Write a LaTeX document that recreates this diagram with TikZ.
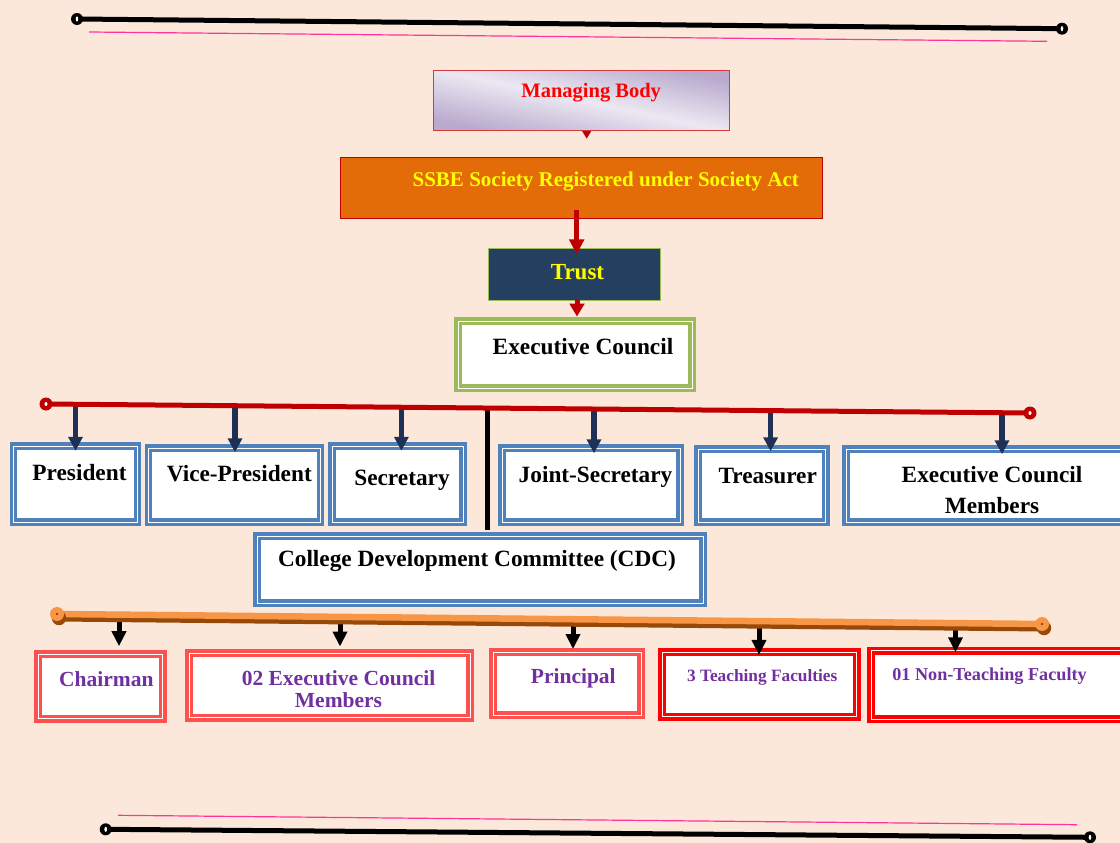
\documentclass[tikz,border=0pt]{standalone}
\usepackage{fontspec}
\setmainfont{Liberation Serif}
\usetikzlibrary{arrows.meta}
\definecolor{bg}{RGB}{252,232,218}
\definecolor{exred}{HTML}{C00000}
\definecolor{mbborder}{HTML}{D63A3A}
\definecolor{ssbeorange}{HTML}{E36C09}
\definecolor{trustnavy}{HTML}{243F60}
\definecolor{olive}{HTML}{9BBB59}
\definecolor{boxblue}{HTML}{4F81BD}
\definecolor{lightred}{HTML}{FF5050}
\definecolor{purered}{HTML}{FF0000}
\definecolor{arrownavy}{HTML}{1F3056}
\definecolor{barorange}{HTML}{F79646}
\definecolor{barbrown}{HTML}{984807}
\definecolor{txtpurple}{HTML}{7030A0}
\definecolor{txtyellow}{HTML}{FFFF00}
\definecolor{hotpink}{HTML}{FF3399}
\definecolor{mblight}{HTML}{ECE8F2}
\definecolor{mbdark}{HTML}{B8A9CD}
\begin{document}
\begin{tikzpicture}[x=1pt,y=-1pt,
  dbox/.style={draw=#1, double=white, double distance=0.9pt, line width=3.5pt, fill=white, inner sep=0pt},
  blk/.style={font=\bfseries\fontsize{23.3}{30.3}\selectfont, inner sep=0pt, anchor=base, align=center},
  pur/.style={font=\bfseries\fontsize{21.5}{22.3}\selectfont, text=txtpurple, inner sep=0pt, anchor=base, align=center},
  redarrow/.style={draw=exred, line width=5pt, -{Triangle[width=14.5pt,length=15pt]}},
  navyarrow/.style={draw=arrownavy, line width=5.2pt, -{Triangle[width=14pt,length=14pt]}},
  blkarrow/.style={draw=black, line width=5pt, -{Triangle[width=14pt,length=15pt]}}
]
\fill[bg] (0,0) rectangle (1120,843);
\useasboundingbox (0,0) rectangle (1120,843);

% top and bottom ornaments
\draw[hotpink, line width=1.2pt] (89,32) -- (1047,41.3);
\draw[black, line width=5pt] (77,19) -- (1062,28.7);
\draw[hotpink, line width=1.2pt] (118,815.3) -- (1077,824.7);
\draw[black, line width=5pt] (105.7,829.3) -- (1090,837.3);
\foreach \p in {(77,19),(1062,28.7),(105.7,829.3),(1090,837.3)} {
  \fill[black] \p circle (6);
  \fill[white] \p ellipse (1.3 and 2.6);
}

% top chain
\node[draw=mbborder, line width=1.3pt, minimum width=296pt, minimum height=60pt, inner sep=0pt,
      top color=mbdark, bottom color=mbdark, middle color=mblight, shading angle=-12] (mb) at (581.5,100.3) {};
\node[font=\bfseries\fontsize{20.5}{24}\selectfont, text=purered, inner sep=0pt, anchor=base] (mbT) at (591.2,97.3) {Managing Body};
\node[draw=exred, line width=1.3pt, fill=ssbeorange, minimum width=482pt, minimum height=61pt, inner sep=0pt] (ssbe) at (581.3,188) {};
\node[font=\bfseries\fontsize{21}{24}\selectfont, text=txtyellow, inner sep=0pt, anchor=base] (ssbeT) at (605.8,186) {SSBE Society Registered under Society Act};
\node[draw=olive, line width=1.3pt, fill=trustnavy, minimum width=172pt, minimum height=52pt, inner sep=0pt] (trust) at (574.5,274.5) {};
\node[font=\bfseries\fontsize{23}{26}\selectfont, text=txtyellow, inner sep=0pt, anchor=base] (trustT) at (577.5,279) {Trust};
\node[dbox=olive, minimum width=234pt, minimum height=67pt] (exec) at (575,354.5) {};
\node[blk] (execT) at (583,354.3) {Executive Council};

\coordinate (mbtip) at (586.7,138.5);
\draw[exred, line width=0.1pt, -{Triangle[width=9pt,length=7.5pt]}] (mb.south -| mbtip) -- (mbtip);
\coordinate (sA) at (576.7,210);
\draw[redarrow, shorten >=-6.5pt] (sA) -- (sA |- trust.north);
\coordinate (tA) at (577,300);
\draw[exred, line width=5pt, -{Triangle[width=14.5pt,length=13pt]}, shorten >=2.7pt] (tA) -- (tA |- exec.north);

% executive council row
\node[dbox=boxblue, minimum width=124pt, minimum height=76pt] (pres) at (75.5,484) {};
\node[blk] (presT) at (79.5,480.7) {President};
\node[dbox=boxblue, minimum width=172pt, minimum height=74pt] (vp) at (234.5,485) {};
\node[blk] (vpT) at (239.3,481) {Vice-President};
\node[dbox=boxblue, minimum width=131pt, minimum height=76pt] (sec) at (397.5,484) {};
\node[blk] (secT) at (402,485) {Secretary};
\node[dbox=boxblue, minimum width=178pt, minimum height=74pt] (joint) at (591,485) {};
\node[blk] (jointT) at (595.5,482.7) {Joint-Secretary};
\node[dbox=boxblue, minimum width=127.5pt, minimum height=73pt] (treas) at (762,485.5) {};
\node[blk] (treasT) at (767.7,483) {Treasurer};
\node[dbox=boxblue, minimum width=278pt, minimum height=73pt] (ecm) at (985,485.5) {};
\node[blk] (ecmT) at (992,513) {Executive Council\\Members};

\node[dbox=boxblue, minimum width=446pt, minimum height=67pt] (cdc) at (480,569.7) {};
\node[blk] (cdcT) at (477,566.7) {College Development Committee (CDC)};

% red distribution line
\coordinate (rA) at (75.5,404.3);
\coordinate (rB) at (235,405.7);
\coordinate (rC) at (401.4,407.2);
\coordinate (rD) at (594,409);
\coordinate (rE) at (770.6,410.6);
\coordinate (rF) at (1002,412.7);
\draw[navyarrow, shorten >=-6.5pt] (rA) -- (rA |- pres.north);
\draw[navyarrow, shorten >=-6pt] (rB) -- (rB |- vp.north);
\draw[navyarrow, shorten >=-6.5pt] (rC) -- (rC |- sec.north);
\draw[navyarrow, shorten >=-7pt] (rD) -- (rD |- joint.north);
\draw[navyarrow, shorten >=-4pt] (rE) -- (rE |- treas.north);
\draw[navyarrow, shorten >=-7pt] (rF) -- (rF |- ecm.north);
\coordinate (vtop) at (487.5,408);
\draw[black, line width=4.3pt, shorten >=4pt] (vtop) -- (vtop |- cdc.north);
\coordinate (rl1) at (46,404);
\coordinate (rl2) at (1030,413);
\draw[exred, line width=5pt] (rl1) -- (rl2);
\foreach \p in {rl1,rl2} {
  \fill[exred] (\p) circle (6.5);
  \fill[white] (\p) ellipse (1.5 and 2);
}

% CDC row
\node[dbox=lightred, minimum width=124.5pt, minimum height=64.7pt] (chair) at (100.5,686.3) {};
\node[pur] (chairT) at (106.4,686) {Chairman};
\node[dbox=lightred, minimum width=281pt, minimum height=64.4pt] (ecm2) at (329.5,685.5) {};
\node[pur] (ecm2T) at (338.5,707.3) {02 Executive Council\\Members};
\node[dbox=lightred, minimum width=148pt, minimum height=63pt] (prin) at (567,683.8) {};
\node[pur] (prinT) at (573.3,683.3) {Principal};
\node[dbox=purered, minimum width=194.4pt, minimum height=64.4pt] (teach) at (759.6,684.5) {};
\node[pur, font=\bfseries\fontsize{17.3}{20}\selectfont] (teachT) at (762.2,681) {3 Teaching Faculties};
\node[dbox=purered, minimum width=253pt, minimum height=68.6pt] (nont) at (997.5,685) {};
\node[pur, font=\bfseries\fontsize{18.2}{20}\selectfont] (nontT) at (989.5,680) {01 Non-Teaching Faculty};

\coordinate (oA) at (119,615);
\coordinate (oB) at (340,617);
\coordinate (oC) at (573,619.5);
\coordinate (oD) at (759,621.5);
\coordinate (oE) at (955.5,623.5);
\draw[blkarrow, shorten >=6pt] (oA) -- (oA |- chair.north);
\draw[blkarrow, shorten >=5pt] (oB) -- (oB |- ecm2.north);
\draw[blkarrow, shorten >=1.5pt] (oC) -- (oC |- prin.north);
\draw[blkarrow, shorten >=-4.4pt] (oD) -- (oD |- teach.north);
\draw[blkarrow, shorten >=-3.3pt] (oE) -- (oE |- nont.north);

% orange bar
\coordinate (ob1) at (57,614);
\coordinate (ob2) at (1042,624);
\draw[barbrown, line width=8pt, line cap=round] ([shift={(1,3.5)}]ob1) -- ([shift={(1,3.5)}]ob2);
\draw[barorange, line width=6.5pt, line cap=round] (ob1) -- (ob2);
\foreach \p in {ob1,ob2} {
  \fill[barbrown] ([shift={(2,4)}]\p) circle (7.2);
  \fill[barorange] (\p) circle (7);
  \fill[barbrown!70!black] (\p) circle (1.2);
}
\end{tikzpicture}
\end{document}
